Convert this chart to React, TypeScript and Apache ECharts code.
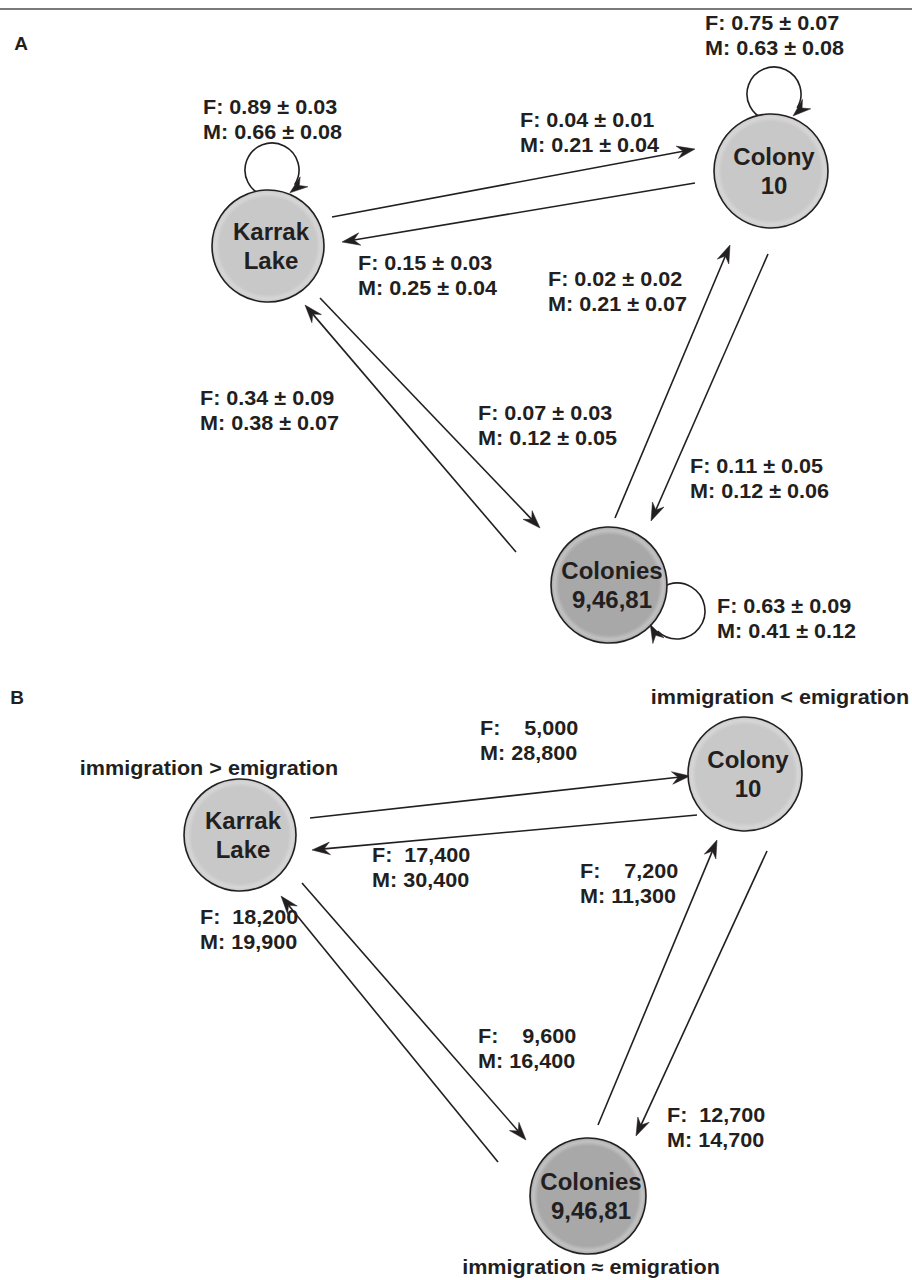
import React, { useEffect, useRef } from "react";
import * as echarts from "echarts";

// ---------- data ----------
const panelLetters = ["A", "B"];
const nodeNames = ["Karrak\nLake", "Colony\n10", "Colonies\n9,46,81"];
const edgeFrom = [0, 1, 0, 2, 2, 1];
const edgeTo = [1, 0, 2, 0, 1, 2];

// Panel A: transition probabilities (female / male)
const selfF_A = ["0.89 ± 0.03", "0.75 ± 0.07", "0.63 ± 0.09"];
const selfM_A = ["0.66 ± 0.08", "0.63 ± 0.08", "0.41 ± 0.12"];
const edgeF_A = ["0.04 ± 0.01", "0.15 ± 0.03", "0.07 ± 0.03", "0.34 ± 0.09", "0.02 ± 0.02", "0.11 ± 0.05"];
const edgeM_A = ["0.21 ± 0.04", "0.25 ± 0.04", "0.12 ± 0.05", "0.38 ± 0.07", "0.21 ± 0.07", "0.12 ± 0.06"];

// Panel B: numbers of movers (female / male)
const edgeF_B = ["5,000", "17,400", "9,600", "18,200", "7,200", "12,700"];
const edgeM_B = ["28,800", "30,400", "16,400", "19,900", "11,300", "14,700"];
const balanceB = ["immigration > emigration", "immigration < emigration", "immigration ≈ emigration"];

// ---------- layout (positions / styles) ----------
const W = 912;
const H = 1280;
const FONT_LABEL = 'bold 20px "Liberation Sans", Arial, Helvetica, sans-serif';
const FONT_NODE = 'bold 24px "Liberation Sans", Arial, Helvetica, sans-serif';
const LABEL_SX = 1.08;
const INK = "#231f20";
const NODE_POS = [
  [[268, 246], [771, 171], [609, 585]],
  [[240, 835], [745, 774], [588, 1196]],
];
const NODE_R = [56, 57, 58];
const NODE_BASE = ["#c8c8c8", "#c8c8c8", "#a8a8a8"];
const NODE_RIM = ["#d6d6d6", "#d6d6d6", "#c2c2c2"];
const EDGE_PTS = [
  [
    [332, 217, 695, 149],
    [695, 183, 342, 242],
    [320, 298, 540, 528],
    [516, 552, 305, 305],
    [615, 518, 730, 245],
    [768, 254, 651, 521],
  ],
  [
    [310, 818, 690, 776],
    [697, 815, 312, 850],
    [302, 883, 526, 1140],
    [498, 1162, 281, 896],
    [598, 1125, 717, 840],
    [767, 851, 636, 1136],
  ],
];
const EDGE_LABEL_POS = [
  [[520, 132], [358, 275], [478, 425], [200, 410], [548, 291], [690, 478]],
  [[480, 740], [372, 867], [478, 1048], [200, 929], [580, 883], [667, 1127]],
];
// loop: cx, cy, r, startDeg, endDeg, tipDeg
const LOOP_GEO = [
  [272, 170, 27, 105, 393, 52],
  [774, 94, 27, 105, 391, 49],
  [677, 611, 28, 205, 494, 153],
];
const SELF_LABEL_POS = [[203, 119], [705, 35], [717, 618]];
const BAL_POS = [[209, 768], [780, 697], [591, 1267]];
const LETTER_POS = [[21, 43], [17, 697]];

function countLabel(prefix: string, num: string, base: number) {
  return prefix + " ".repeat(base + (6 - num.length) * 2) + num;
}

function arrowHead(api: any, tx: number, ty: number, dx: number, dy: number) {
  const len = Math.hypot(dx, dy);
  const ux = dx / len;
  const uy = dy / len;
  const nx = -uy;
  const ny = ux;
  const L = 18, Wd = 6.3, N = 12;
  const pts = [
    [tx, ty],
    [tx - L * ux + Wd * nx, ty - L * uy + Wd * ny],
    [tx - N * ux, ty - N * uy],
    [tx - L * ux - Wd * nx, ty - L * uy - Wd * ny],
  ].map((p) => api.coord(p));
  return { type: "polygon", shape: { points: pts }, style: { fill: INK, stroke: INK, lineWidth: 0.5 } };
}

function labelText(text: string, pos: number[], align: string) {
  return {
    type: "text",
    x: pos[0],
    y: pos[1],
    scaleX: LABEL_SX,
    style: { text, x: 0, y: 0, font: FONT_LABEL, fill: INK, align, verticalAlign: "middle", lineHeight: 25 },
  };
}

export default function App() {
  const ref = useRef<HTMLDivElement>(null);
  useEffect(() => {
    document.body.style.margin = "0";
    const chart = echarts.init(ref.current!, null, { renderer: "svg" });

    const edgeItems: number[][] = [];
    for (let p = 0; p < 2; p++) for (let e = 0; e < edgeFrom.length; e++) edgeItems.push([p, e]);
    const nodeItems: number[][] = [];
    for (let p = 0; p < 2; p++) for (let n = 0; n < nodeNames.length; n++) nodeItems.push([p, n]);
    const loopItems = selfF_A.map((_, i) => [0, i]);

    const option: any = {
      animation: false,
      backgroundColor: "#ffffff",
      grid: { left: 0, right: 0, top: 0, bottom: 0 },
      xAxis: { type: "value", min: 0, max: W, show: false },
      yAxis: { type: "value", min: 0, max: H, inverse: true, show: false },
      graphic: [
        { type: "line", shape: { x1: 0, y1: 9, x2: W, y2: 9 }, style: { stroke: "#7a7a7a", lineWidth: 2 } },
        ...panelLetters.map((t, i) => ({
          type: "text",
          x: LETTER_POS[i][0],
          y: LETTER_POS[i][1],
          style: { text: t, font: 'bold 19px "Liberation Sans", Arial, sans-serif', fill: INK, align: "center", verticalAlign: "middle" },
        })),
      ],
      series: [
        {
          type: "custom",
          name: "loops",
          coordinateSystem: "cartesian2d",
          data: loopItems,
          z: 1,
          renderItem: (params: any, api: any) => {
            const i = params.dataIndex;
            const [cx, cy, r, s, e] = LOOP_GEO[i];
            const c = api.coord([cx, cy]);
            return {
              type: "arc",
              shape: { cx: c[0], cy: c[1], r, startAngle: (s * Math.PI) / 180, endAngle: (e * Math.PI) / 180, clockwise: true },
              style: { stroke: INK, fill: "none", lineWidth: 1.6 },
            };
          },
        },
        {
          type: "custom",
          name: "movements",
          coordinateSystem: "cartesian2d",
          data: edgeItems,
          z: 2,
          renderItem: (params: any, api: any) => {
            const [p, e] = edgeItems[params.dataIndex];
            const [x1, y1, x2, y2] = EDGE_PTS[p][e];
            const dx = x2 - x1, dy = y2 - y1;
            const len = Math.hypot(dx, dy);
            const ex = x2 - (dx / len) * 12, ey = y2 - (dy / len) * 12;
            const a = api.coord([x1, y1]);
            const b = api.coord([ex, ey]);
            const txt =
              p === 0
                ? `F: ${edgeF_A[e]}\nM: ${edgeM_A[e]}`
                : `${countLabel("F:", edgeF_B[e], 2)}\n${countLabel("M:", edgeM_B[e], 1)}`;
            const lc = api.coord(EDGE_LABEL_POS[p][e]);
            return {
              type: "group",
              children: [
                { type: "line", shape: { x1: a[0], y1: a[1], x2: b[0], y2: b[1] }, style: { stroke: INK, lineWidth: 1.6 } },
                arrowHead(api, x2, y2, dx, dy),
                labelText(txt, lc, "left"),
              ],
            };
          },
        },
        {
          type: "custom",
          name: "sites",
          coordinateSystem: "cartesian2d",
          data: nodeItems,
          z: 3,
          renderItem: (params: any, api: any) => {
            const [p, n] = nodeItems[params.dataIndex];
            const c = api.coord(NODE_POS[p][n]);
            const children: any[] = [
              {
                type: "circle",
                shape: { cx: c[0], cy: c[1], r: NODE_R[n] },
                style: {
                  fill: new echarts.graphic.RadialGradient(0.5, 0.5, 0.5, [
                    { offset: 0, color: NODE_BASE[n] },
                    { offset: 0.86, color: NODE_BASE[n] },
                    { offset: 0.94, color: NODE_RIM[n] },
                    { offset: 1, color: NODE_BASE[n] },
                  ]),
                  stroke: INK,
                  lineWidth: 1.6,
                },
              },
              {
                type: "text",
                style: { text: nodeNames[n], x: c[0] + 3, y: c[1], font: FONT_NODE, fill: INK, align: "center", verticalAlign: "middle", lineHeight: 29 },
              },
            ];
            if (p === 0) {
              const [cx, cy, r, , , t] = LOOP_GEO[n];
              const th = (t * Math.PI) / 180;
              const tx = cx + (r + 2) * Math.cos(th);
              const ty = cy + (r + 2) * Math.sin(th);
              children.push(arrowHead(api, tx, ty, -Math.sin(th), Math.cos(th)));
              children.push(labelText(`F: ${selfF_A[n]}\nM: ${selfM_A[n]}`, api.coord(SELF_LABEL_POS[n]), "left"));
            } else {
              children.push(labelText(balanceB[n], api.coord(BAL_POS[n]), "center"));
            }
            return { type: "group", children };
          },
        },
      ],
    };
    chart.setOption(option);
    return () => chart.dispose();
  }, []);
  return <div ref={ref} style={{ width: W, height: H }} />;
}
